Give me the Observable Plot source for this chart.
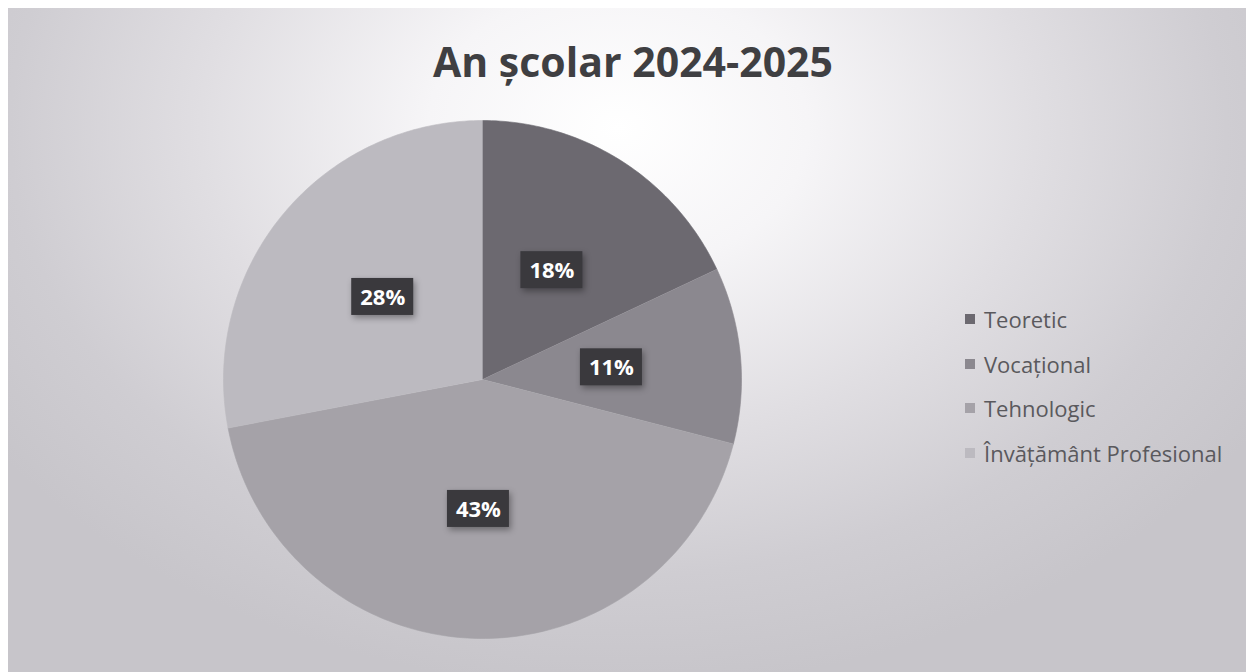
<!DOCTYPE html>
<html>
<head>
<meta charset="utf-8">
<script src="https://cdn.jsdelivr.net/npm/d3@7"></script>
<script src="https://cdn.jsdelivr.net/npm/@observablehq/plot@0.6"></script>
<style>
  html, body { margin: 0; padding: 0; background: #ffffff; }
  #chart { position: relative; width: 1246px; height: 672px; overflow: hidden; font-family: "Open Sans", sans-serif; }
  #bg { position: absolute; left: 8px; top: 8px; right: 0; bottom: 0;
        background: radial-gradient(ellipse 760px 560px at 610px 120px, #ffffff 0%, #f6f5f7 25%, #e0dee2 55%, #cfcdd2 80%, #c7c5ca 100%); }
  #title { position: absolute; left: 0; width: 1266px; top: 31px; text-align: center;
           font-size: 41px; font-weight: 700; color: #3f3f42; line-height: 60px; }
  #plot { position: absolute; left: 0; top: 0; }
  #legend { position: absolute; left: 965px; top: 0; }
  .item { position: absolute; left: 0; height: 30px; display: flex; align-items: center; white-space: nowrap;
          font-size: 22px; color: #5a595d; }
  .sw { width: 10px; height: 10px; margin-right: 9px; flex: none; }
  svg g[aria-label="rect"] rect { filter: drop-shadow(2px 3px 3px rgba(0,0,0,0.35)); }
</style>
</head>
<body>
<div id="chart">
  <div id="bg"></div>
  <div id="title">An școlar 2024-2025</div>
  <div id="plot"></div>
  <div id="legend"></div>
</div>
<script>
// ---- data ----
const categories = ["Teoretic", "Vocațional", "Tehnologic", "Învățământ Profesional"];
const values = [18, 11, 43, 28];
const labels = ["18%", "11%", "43%", "28%"];
const colors = ["#6c6970", "#8b888f", "#a5a2a8", "#bcbac0"];

// ---- geometry (unit circle; angles clockwise from 12 o'clock) ----
const arcs = d3.pie().sort(null).value(d => d)(values);
const slicePoints = [];
arcs.forEach((a, i) => {
  slicePoints.push({cat: categories[i], x: 0, y: 0});
  const steps = Math.max(2, Math.ceil((a.endAngle - a.startAngle) / (Math.PI / 180)));
  for (let k = 0; k <= steps; k++) {
    const t = a.startAngle + (a.endAngle - a.startAngle) * k / steps;
    slicePoints.push({cat: categories[i], x: Math.sin(t), y: Math.cos(t)});
  }
});
const labelData = arcs.map((a, i) => {
  const m = (a.startAngle + a.endAngle) / 2;
  return {cat: categories[i], text: labels[i], x: 0.5 * Math.sin(m), y: 0.5 * Math.cos(m)};
});

const R = 259;               // pie radius in px
const bw = 31 / R, bh = 18.5 / R;  // label box half-size in data units

const chart = Plot.plot({
  width: 1246,
  height: 672,
  marginLeft: 223,
  marginRight: 505,
  marginTop: 120,
  marginBottom: 34,
  x: {domain: [-1, 1], axis: null},
  y: {domain: [-1, 1], axis: null},
  color: {domain: categories, range: colors},
  style: {background: "transparent", overflow: "visible"},
  marks: [
    Plot.line(slicePoints, {x: "x", y: "y", z: "cat", fill: "cat", stroke: "cat", strokeWidth: 0.6, curve: "linear"}),
    Plot.rect(labelData, {x1: d => d.x - bw, x2: d => d.x + bw, y1: d => d.y - bh, y2: d => d.y + bh, fill: "#3a393d"}),
    Plot.text(labelData, {x: "x", y: "y", text: "text", fill: "white", fontSize: 22, fontWeight: "bold",
      fontFamily: "Open Sans", dy: 1})
  ]
});
document.getElementById("plot").appendChild(chart);

// ---- legend ----
const legend = document.getElementById("legend");
categories.forEach((c, i) => {
  const row = document.createElement("div");
  row.className = "item";
  row.style.top = (304 + i * 44.5) + "px";
  const sw = document.createElement("span");
  sw.className = "sw";
  sw.style.background = colors[i];
  const tx = document.createElement("span");
  tx.textContent = c;
  row.appendChild(sw);
  row.appendChild(tx);
  legend.appendChild(row);
});
</script>
</body>
</html>
